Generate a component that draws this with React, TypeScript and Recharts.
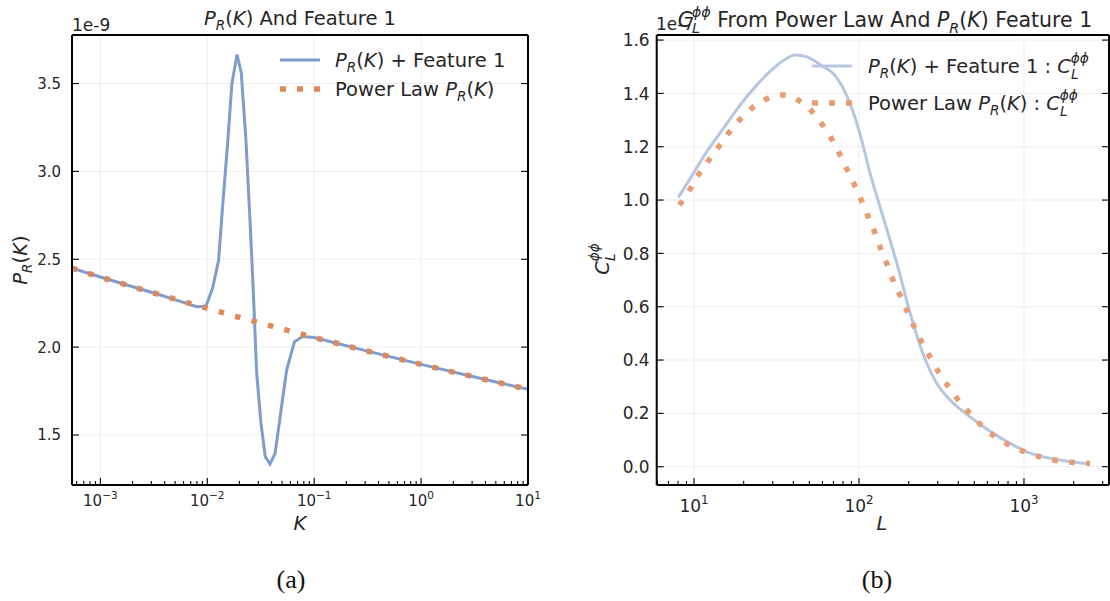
import React from 'react';
import { LineChart, Line, XAxis, YAxis, CartesianGrid, Legend } from 'recharts';

const FONT = '"DejaVu Sans", sans-serif';
const INK = '#262626';

// (a) primordial spectrum, in units of 1e-9
const kValues = [5.43e-4, 1e-3, 3.16e-3, 6.31e-3, 7.94e-3, 9.7e-3, 0.0112, 0.01276, 0.0139, 0.0155, 0.017, 0.019, 0.0208, 0.023, 0.0253, 0.027, 0.029, 0.0318, 0.0349, 0.0386, 0.0431, 0.049, 0.0553, 0.0653, 0.078, 0.1, 0.316, 1, 3.16, 10];
const featureP = [2.449, 2.399, 2.308, 2.25, 2.23, 2.232, 2.333, 2.494, 2.797, 3.16, 3.5, 3.665, 3.56, 3.18, 2.68, 2.305, 1.85, 1.566, 1.377, 1.335, 1.396, 1.642, 1.869, 2.03, 2.06, 2.055, 1.977, 1.902, 1.83, 1.76];
const powerLawP = [2.449, 2.399, 2.308, 2.255, 2.238, 2.223, 2.212, 2.202, 2.196, 2.188, 2.181, 2.173, 2.167, 2.159, 2.152, 2.148, 2.143, 2.136, 2.129, 2.122, 2.114, 2.105, 2.097, 2.085, 2.072, 2.055, 1.977, 1.902, 1.83, 1.76];

// (b) lensing spectra, in units of 1e-7
const ellFeature = [8.04, 9.91, 11.94, 15.07, 19.01, 23.99, 30.27, 36.48, 40.93, 48.19, 60.81, 69.8, 88.1, 103.8, 116.7, 134.0, 154.2, 173.0, 199.1, 228.6, 257.0, 295.8, 356.5, 471.0, 651.6, 822.2, 1037, 1652, 2512];
const clFeature = [1.01, 1.1, 1.181, 1.269, 1.356, 1.431, 1.494, 1.531, 1.544, 1.537, 1.5, 1.475, 1.363, 1.225, 1.1, 0.975, 0.85, 0.744, 0.6, 0.475, 0.389, 0.313, 0.25, 0.187, 0.125, 0.088, 0.056, 0.025, 0.01];
const ellPowerLaw = [8.15, 9.38, 10.62, 12.22, 14.03, 16.14, 18.84, 22.39, 27.29, 34.51, 43.45, 52.12, 60.26, 68.39, 76.74, 84.92, 94.62, 103.8, 113.8, 125.0, 135.8, 148.6, 161.4, 179.1, 197.2, 218.3, 242.1, 272.3, 306.9, 350.8, 405.5, 477.5, 562.3, 676.1, 833.7, 1047, 1309, 1652, 2104, 2512];
const clPowerLaw = [0.981, 1.037, 1.094, 1.147, 1.198, 1.25, 1.3, 1.344, 1.378, 1.394, 1.372, 1.331, 1.281, 1.228, 1.169, 1.112, 1.052, 0.996, 0.937, 0.877, 0.816, 0.756, 0.697, 0.637, 0.579, 0.519, 0.463, 0.406, 0.35, 0.298, 0.244, 0.196, 0.15, 0.11, 0.078, 0.053, 0.034, 0.021, 0.015, 0.012];

// axis ranges and labelled ticks
const kDomain = [5.43e-4, 10];
const kMajor = [1e-3, 1e-2, 1e-1, 1, 10];
const pDomain = [1.2155, 3.776];
const pTicks = [1.5, 2.0, 2.5, 3.0, 3.5];
const ellDomain = [5.94, 3275];
const ellMajor = [10, 100, 1000];
const clDomain = [-0.0686, 1.619];
const clTicks = [0, 0.2, 0.4, 0.6, 0.8, 1.0, 1.2, 1.4, 1.6];

const BLUE_A = '#7f9ccf';
const ORANGE_A = '#df8859';
const BLUE_B = '#b5c6e1';
const ORANGE_B = '#e99b72';
const DOTS = '5.5 11.5';
const BIG = 19.5;

const featureRows = kValues.map((k, i) => ({ k, p: featureP[i] }));
const powerRows = kValues.map((k, i) => ({ k, p: powerLawP[i] }));
const clFeatureRows = ellFeature.map((l, i) => ({ l, c: clFeature[i] }));
const clPowerRows = ellPowerLaw.map((l, i) => ({ l, c: clPowerLaw[i] }));

// every m * 10^e between lo and hi, for inward minor ticks
const logTicks = (lo: number, hi: number) => {
  const out: number[] = [];
  for (let e = Math.floor(Math.log10(lo)); e <= Math.ceil(Math.log10(hi)); e++) {
    for (let m = 1; m <= 9; m++) {
      const v = m * Math.pow(10, e);
      if (v >= lo && v <= hi * 1.0001) out.push(v);
    }
  }
  return out;
};
const isDecade = (v: number) => Math.abs(Math.log10(v) - Math.round(Math.log10(v))) < 1e-6;

type TickProps = { x?: number; y?: number; payload?: { value: number } };

const bottomLogTick = (size: number, drop: number) => ({ x = 0, y = 0, payload }: TickProps) => {
  const v = payload?.value ?? 1;
  const major = isDecade(v);
  const e = Math.round(Math.log10(v));
  return (
    <g>
      <line x1={x} x2={x} y1={y} y2={y - (major ? 7 : 4)} stroke="#000" strokeWidth={1.1} />
      {major && (
        <text x={x} y={y + drop} textAnchor="middle" fontFamily={FONT} fontSize={size} fill={INK}>
          10<tspan fontSize={size * 0.7} dy={-size * 0.45}>{e < 0 ? `\u2212${-e}` : `${e}`}</tspan>
        </text>
      )}
    </g>
  );
};

const TopLogTick = ({ x = 0, y = 0, payload }: TickProps) => {
  const major = isDecade(payload?.value ?? 1);
  return <line x1={x} x2={x} y1={y} y2={y + (major ? 7 : 4)} stroke="#000" strokeWidth={1.1} />;
};

const leftTick = (gap: number, size: number) => ({ x = 0, y = 0, payload }: TickProps) => (
  <g>
    <line x1={x} x2={x + 7} y1={y} y2={y} stroke="#000" strokeWidth={1.1} />
    <text x={x - gap} y={y + size * 0.36} textAnchor="end" fontFamily={FONT} fontSize={size} fill={INK}>
      {(payload?.value ?? 0).toFixed(1)}
    </text>
  </g>
);

const RightTick = ({ x = 0, y = 0 }: TickProps) => (
  <line x1={x} x2={x - 7} y1={y} y2={y} stroke="#000" strokeWidth={1.1} />
);

const FRAME = { stroke: '#000', strokeWidth: 2 };

// P_R(K) in mathtext style
const PRK = ({ size = 14 }: { size?: number }) => (
  <>
    <tspan fontStyle="italic">P</tspan>
    <tspan fontStyle="italic" fontSize={size * 0.7} dy={size * 0.28}>R</tspan>
    <tspan dy={-size * 0.28}>(</tspan>
    <tspan fontStyle="italic">K</tspan>
    <tspan>)</tspan>
  </>
);

// C_L^{phi phi}; the baseline ends raised by 0.5 * size
const CL = ({ size = 14 }: { size?: number }) => (
  <>
    <tspan fontStyle="italic">C</tspan>
    <tspan fontStyle="italic" fontSize={size * 0.7} dy={size * 0.3}>L</tspan>
    <tspan fontStyle="italic" fontSize={size * 0.7} dx={-size * 0.4} dy={-size * 0.8}>ϕϕ</tspan>
  </>
);

const SampleLine = ({ y, color, dashed }: { y: number; color: string; dashed?: boolean }) => (
  <line
    x1={0}
    x2={40}
    y1={y}
    y2={y}
    stroke={color}
    strokeWidth={dashed ? 5.5 : 3}
    strokeDasharray={dashed ? '6 11' : undefined}
  />
);

const LegendA = () => (
  <svg width={260} height={62} style={{ display: 'block' }}>
    <SampleLine y={12} color={BLUE_A} />
    <text x={55} y={19} fontFamily={FONT} fontSize={BIG} fill={INK}>
      <PRK size={BIG} />
      <tspan> + Feature 1</tspan>
    </text>
    <SampleLine y={41} color={ORANGE_A} dashed />
    <text x={55} y={48} fontFamily={FONT} fontSize={BIG} fill={INK}>
      <tspan>Power Law </tspan>
      <PRK size={BIG} />
    </text>
  </svg>
);

const LegendB = () => (
  <svg width={296} height={80} style={{ display: 'block' }}>
    <SampleLine y={20} color={BLUE_B} />
    <text x={56} y={27} fontFamily={FONT} fontSize={BIG} fill={INK}>
      <PRK size={BIG} />
      <tspan> + Feature 1 : </tspan>
      <CL size={BIG} />
    </text>
    <SampleLine y={57} color={ORANGE_B} dashed />
    <text x={56} y={64} fontFamily={FONT} fontSize={BIG} fill={INK}>
      <tspan>Power Law </tspan>
      <PRK size={BIG} />
      <tspan> : </tspan>
      <CL size={BIG} />
    </text>
  </svg>
);

const PanelA = () => (
  <LineChart width={560} height={601} margin={{ top: 34, right: 31, bottom: 115, left: 71 }}>
    <CartesianGrid stroke="#eeeeee" strokeWidth={1} verticalValues={kMajor} horizontalValues={pTicks} />
    <XAxis
      dataKey="k"
      type="number"
      scale="log"
      domain={kDomain}
      allowDataOverflow
      ticks={logTicks(kDomain[0], kDomain[1])}
      interval={0}
      height={1}
      tickSize={0}
      tickMargin={0}
      tickLine={false}
      axisLine={FRAME}
      tick={bottomLogTick(15, 21)}
    />
    <XAxis
      xAxisId="top"
      orientation="top"
      type="number"
      scale="log"
      domain={kDomain}
      allowDataOverflow
      ticks={logTicks(kDomain[0], kDomain[1])}
      interval={0}
      height={1}
      tickSize={0}
      tickMargin={0}
      tickLine={false}
      axisLine={FRAME}
      tick={<TopLogTick />}
    />
    <YAxis
      type="number"
      domain={pDomain}
      allowDataOverflow
      ticks={pTicks}
      interval={0}
      width={1}
      tickSize={0}
      tickMargin={0}
      tickLine={false}
      axisLine={FRAME}
      tick={leftTick(11, 15)}
    />
    <YAxis
      yAxisId="right"
      orientation="right"
      type="number"
      domain={pDomain}
      allowDataOverflow
      ticks={pTicks}
      interval={0}
      width={1}
      tickSize={0}
      tickMargin={0}
      tickLine={false}
      axisLine={FRAME}
      tick={<RightTick />}
    />
    <Line
      data={featureRows}
      dataKey="p"
      type="linear"
      stroke={BLUE_A}
      strokeWidth={3}
      dot={false}
      isAnimationActive={false}
    />
    <Line
      data={powerRows}
      dataKey="p"
      type="monotoneX"
      stroke={ORANGE_A}
      strokeWidth={5.5}
      strokeDasharray={DOTS}
      dot={false}
      isAnimationActive={false}
    />
    <Legend
      layout="horizontal"
      verticalAlign="middle"
      align="center"
      wrapperStyle={{ top: 48, left: 280, width: 260 }}
      content={() => <LegendA />}
    />
  </LineChart>
);

const PanelB = () => (
  <LineChart width={550} height={601} margin={{ top: 34, right: 0, bottom: 115, left: 95.7 }}>
    <CartesianGrid stroke="#eeeeee" strokeWidth={1} verticalValues={ellMajor} horizontalValues={clTicks} />
    <XAxis
      dataKey="l"
      type="number"
      scale="log"
      domain={ellDomain}
      allowDataOverflow
      ticks={logTicks(ellDomain[0], ellDomain[1])}
      interval={0}
      height={1}
      tickSize={0}
      tickMargin={0}
      tickLine={false}
      axisLine={FRAME}
      tick={bottomLogTick(17, 27)}
    />
    <XAxis
      xAxisId="top"
      orientation="top"
      type="number"
      scale="log"
      domain={ellDomain}
      allowDataOverflow
      ticks={logTicks(ellDomain[0], ellDomain[1])}
      interval={0}
      height={1}
      tickSize={0}
      tickMargin={0}
      tickLine={false}
      axisLine={FRAME}
      tick={<TopLogTick />}
    />
    <YAxis
      type="number"
      domain={clDomain}
      allowDataOverflow
      ticks={clTicks}
      interval={0}
      width={1}
      tickSize={0}
      tickMargin={0}
      tickLine={false}
      axisLine={FRAME}
      tick={leftTick(7, 17)}
    />
    <YAxis
      yAxisId="right"
      orientation="right"
      type="number"
      domain={clDomain}
      allowDataOverflow
      ticks={clTicks}
      interval={0}
      width={1}
      tickSize={0}
      tickMargin={0}
      tickLine={false}
      axisLine={FRAME}
      tick={<RightTick />}
    />
    <Line
      data={clFeatureRows}
      dataKey="c"
      type="monotoneX"
      stroke={BLUE_B}
      strokeWidth={3}
      dot={false}
      isAnimationActive={false}
    />
    <Line
      data={clPowerRows}
      dataKey="c"
      type="monotoneX"
      stroke={ORANGE_B}
      strokeWidth={5.5}
      strokeDasharray={DOTS}
      dot={false}
      isAnimationActive={false}
    />
    <Legend
      layout="horizontal"
      verticalAlign="middle"
      align="center"
      wrapperStyle={{ top: 46, left: 252, width: 296 }}
      content={() => <LegendB />}
    />
  </LineChart>
);

// titles, axis names, offsets and sub-figure captions
const Annotations = () => (
  <svg
    width={1110}
    height={601}
    style={{ position: 'absolute', left: 0, top: 0, pointerEvents: 'none' }}
    fontFamily={FONT}
    fill={INK}
  >
    <text x={300} y={25} textAnchor="middle" fontSize={BIG}>
      <PRK size={BIG} />
      <tspan> And Feature 1</tspan>
    </text>
    <text x={72} y={31} fontSize={17}>1e-9</text>
    <text x={656} y={30} fontSize={17}>1e-7</text>
    <text x={885} y={27} textAnchor="middle" fontSize={20.5}>
      <CL size={20.5} />
      <tspan dy={20.5 * 0.5}> From Power Law And </tspan>
      <PRK size={20.5} />
      <tspan> Feature 1</tspan>
    </text>

    <text x={27} y={260} textAnchor="middle" fontSize={BIG} transform="rotate(-90 27 260)">
      <PRK size={BIG} />
    </text>
    <text x={609} y={259} textAnchor="middle" fontSize={BIG} transform="rotate(-90 609 259)">
      <CL size={BIG} />
    </text>

    <text x={300} y={530} textAnchor="middle" fontSize={BIG} fontStyle="italic">K</text>
    <text x={882} y={530} textAnchor="middle" fontSize={BIG} fontStyle="italic">L</text>

    <text x={291} y={588} textAnchor="middle" fontFamily='"Liberation Serif", serif' fontSize={26} fill="#111">(a)</text>
    <text x={877} y={588} textAnchor="middle" fontFamily='"Liberation Serif", serif' fontSize={26} fill="#111">(b)</text>
  </svg>
);

export default function App() {
  return (
    <div style={{ position: 'absolute', left: 0, top: 0, width: 1110, height: 601, background: '#fff' }}>
      <div style={{ position: 'absolute', left: 0, top: 0 }}>
        <PanelA />
      </div>
      <div style={{ position: 'absolute', left: 560, top: 0 }}>
        <PanelB />
      </div>
      <Annotations />
    </div>
  );
}
